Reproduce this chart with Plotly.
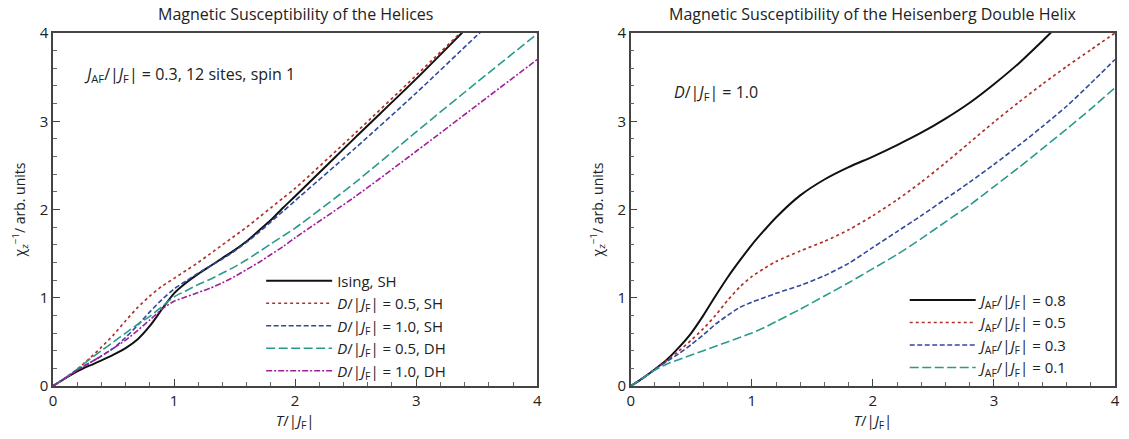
import plotly.graph_objects as go
from plotly.subplots import make_subplots

# ---- Left panel: spin helices, J_AF/|J_F| = 0.3, 12 sites, spin 1 ----
t_left = [0, 0.1, 0.2, 0.3, 0.4, 0.5, 0.6, 0.7, 0.8, 0.9, 1.0, 1.1, 1.2, 1.3, 1.4, 1.5, 1.6, 1.7, 1.8, 1.9, 2.0,
          2.5, 3.0, 3.5, 4.0]
ising_sh = [0, 0.085, 0.165, 0.23, 0.29, 0.355, 0.43, 0.53, 0.68, 0.87, 1.05, 1.17, 1.27, 1.36, 1.45, 1.54, 1.64,
            1.76, 1.88, 2.02, 2.15, 2.82, 3.48, 4.17, 4.85]
d05_sh = [0, 0.09, 0.19, 0.31, 0.44, 0.58, 0.74, 0.89, 1.02, 1.13, 1.22, 1.31, 1.40, 1.50, 1.60, 1.70, 1.80,
          1.91, 2.02, 2.13, 2.24, 2.87, 3.52, 4.18, 4.85]
d10_sh = [0, 0.09, 0.18, 0.26, 0.34, 0.43, 0.55, 0.69, 0.84, 0.98, 1.10, 1.19, 1.28, 1.36, 1.44, 1.53, 1.63,
          1.74, 1.86, 1.98, 2.10, 2.70, 3.32, 3.97, 4.60]
d05_dh = [0, 0.09, 0.19, 0.30, 0.40, 0.50, 0.60, 0.70, 0.79, 0.90, 1.01, 1.08, 1.15, 1.21, 1.28, 1.35, 1.43,
          1.52, 1.61, 1.70, 1.79, 2.31, 2.88, 3.44, 3.99]
d10_dh = [0, 0.09, 0.18, 0.26, 0.34, 0.43, 0.52, 0.63, 0.75, 0.87, 0.96, 1.01, 1.06, 1.11, 1.17, 1.24, 1.32,
          1.40, 1.49, 1.58, 1.68, 2.15, 2.66, 3.18, 3.70]

# ---- Right panel: Heisenberg double helix, D/|J_F| = 1.0 ----
t_right = [0, 0.1, 0.2, 0.3, 0.4, 0.5, 0.6, 0.7, 0.8, 0.9, 1.0, 1.1, 1.2, 1.4, 1.6, 1.8, 2.0, 2.2, 2.4, 2.6, 2.8,
           3.0, 3.2, 3.4, 3.6, 3.8, 4.0]
jaf08 = [0, 0.09, 0.19, 0.30, 0.44, 0.60, 0.80, 1.02, 1.23, 1.42, 1.60, 1.76, 1.91, 2.16, 2.34, 2.48, 2.60, 2.73,
         2.87, 3.03, 3.21, 3.42, 3.65, 3.91, 4.18, 4.45, 4.72]
jaf05 = [0, 0.09, 0.19, 0.29, 0.40, 0.52, 0.65, 0.80, 0.97, 1.12, 1.24, 1.33, 1.41, 1.53, 1.64, 1.77, 1.93, 2.11,
         2.31, 2.53, 2.76, 2.99, 3.21, 3.42, 3.62, 3.81, 4.00]
jaf03 = [0, 0.09, 0.19, 0.28, 0.37, 0.47, 0.58, 0.70, 0.80, 0.89, 0.95, 1.00, 1.05, 1.14, 1.25, 1.39, 1.57, 1.75,
         1.93, 2.12, 2.31, 2.51, 2.72, 2.94, 3.17, 3.43, 3.70]
jaf01 = [0, 0.09, 0.18, 0.25, 0.30, 0.35, 0.40, 0.45, 0.50, 0.55, 0.60, 0.66, 0.73, 0.87, 1.02, 1.17, 1.33, 1.49,
         1.67, 1.86, 2.05, 2.26, 2.47, 2.69, 2.91, 3.14, 3.38]

left_names = ["Ising, SH",
              "<i>D</i>/|<i>J</i><sub>F</sub>| = 0.5, SH",
              "<i>D</i>/|<i>J</i><sub>F</sub>| = 1.0, SH",
              "<i>D</i>/|<i>J</i><sub>F</sub>| = 0.5, DH",
              "<i>D</i>/|<i>J</i><sub>F</sub>| = 1.0, DH"]
right_names = ["<i>J</i><sub>AF</sub>/|<i>J</i><sub>F</sub>| = 0.8",
               "<i>J</i><sub>AF</sub>/|<i>J</i><sub>F</sub>| = 0.5",
               "<i>J</i><sub>AF</sub>/|<i>J</i><sub>F</sub>| = 0.3",
               "<i>J</i><sub>AF</sub>/|<i>J</i><sub>F</sub>| = 0.1"]

BLACK = "#111111"
RED = "#b0302a"
BLUE = "#2f4a9a"
TEAL = "#2a9a8c"
MAGENTA = "#a0209a"
TEXT = "#222222"
FONT = "Open Sans"

SOLID = "solid"
DOTTED = "dot"
DASHED = "5px,2.5px"
LONGDASH = "9px,3.5px"
DASHDOT = "6px,2px,2px,2px"

fig = make_subplots(rows=1, cols=2, horizontal_spacing=0.088)

left_styles = [(BLACK, SOLID, 2.0), (RED, DOTTED, 1.7), (BLUE, DASHED, 1.6),
               (TEAL, LONGDASH, 1.6), (MAGENTA, DASHDOT, 1.6)]
for ys, name, (c, d, w) in zip([ising_sh, d05_sh, d10_sh, d05_dh, d10_dh], left_names, left_styles):
    fig.add_trace(go.Scatter(x=t_left, y=ys, mode="lines", name=name,
                             line=dict(color=c, dash=d, width=w, shape="spline", smoothing=0.7),
                             legend="legend"), row=1, col=1)

right_styles = [(BLACK, SOLID, 2.0), (RED, DOTTED, 1.7), (BLUE, DASHED, 1.6), (TEAL, LONGDASH, 1.6)]
for ys, name, (c, d, w) in zip([jaf08, jaf05, jaf03, jaf01], right_names, right_styles):
    fig.add_trace(go.Scatter(x=t_right, y=ys, mode="lines", name=name,
                             line=dict(color=c, dash=d, width=w, shape="spline", smoothing=0.7),
                             legend="legend2"), row=1, col=2)

axis_common = dict(range=[0, 4], showline=True, linecolor="#444444", linewidth=1.5, mirror=True,
                   ticks="inside", ticklen=7, tickwidth=1.2, tickcolor="#444444",
                   dtick=1, tick0=0, showgrid=False, zeroline=False,
                   tickfont=dict(family=FONT, size=15, color=TEXT),
                   minor=dict(ticks="inside", ticklen=4, dtick=0.2, tickcolor="#666666", tickwidth=1))

xt = "<i>T</i>/|<i>J</i><sub>F</sub>|"
yt = "χ<sub>z</sub><sup>−1</sup>/ arb. units"
for col in (1, 2):
    fig.update_xaxes(axis_common, row=1, col=col,
                     title=dict(text=xt, font=dict(family=FONT, size=15, color=TEXT), standoff=4))
    fig.update_yaxes(axis_common, row=1, col=col,
                     title=dict(text=yt, font=dict(family=FONT, size=14, color=TEXT), standoff=11))

legend_common = dict(bgcolor="rgba(0,0,0,0)", borderwidth=0, itemwidth=66, tracegroupgap=0,
                     font=dict(family=FONT, size=15, color=TEXT),
                     xanchor="left", yanchor="middle")

fig.update_layout(
    width=1129, height=439,
    margin=dict(l=53, r=9, t=33, b=53),
    paper_bgcolor="white", plot_bgcolor="white",
    showlegend=True,
    legend=dict(legend_common, x=0.196, y=0.170),
    legend2=dict(legend_common, x=0.802, y=0.148),
    annotations=[
        dict(text="Magnetic Susceptibility of the Helices", xref="paper", yref="paper",
             x=0.2287, y=1.0, xanchor="center", yanchor="bottom", yshift=6, showarrow=False,
             font=dict(family=FONT, size=16, color=TEXT)),
        dict(text="Magnetic Susceptibility of the Heisenberg Double Helix", xref="paper", yref="paper",
             x=0.7722, y=1.0, xanchor="center", yanchor="bottom", yshift=6, showarrow=False,
             font=dict(family=FONT, size=16, color=TEXT)),
        dict(text="<i>J</i><sub>AF</sub>/|<i>J</i><sub>F</sub>| = 0.3, 12 sites, spin 1",
             xref="x", yref="y", x=0.24, y=3.53, xanchor="left", showarrow=False,
             font=dict(family=FONT, size=16, color=TEXT)),
        dict(text="<i>D</i>/|<i>J</i><sub>F</sub>| = 1.0",
             xref="x2", yref="y2", x=0.337, y=3.33, xanchor="left", showarrow=False,
             font=dict(family=FONT, size=16, color=TEXT)),
    ],
)

fig.write_html("out.html")
